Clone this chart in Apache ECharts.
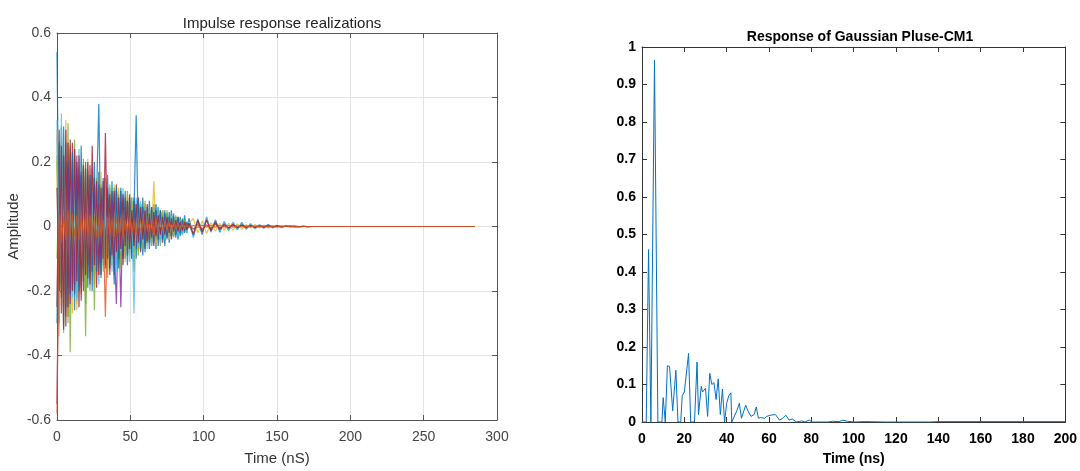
<!DOCTYPE html>
<html>
<head>
<meta charset="utf-8">
<script src="https://cdn.jsdelivr.net/npm/echarts@6/dist/echarts.min.js"></script>
<style>
  html, body { margin: 0; padding: 0; background: #fff; }
  #chart { width: 1080px; height: 471px; }
</style>
</head>
<body>
<div id="chart"></div>
<script>
// ---- left panel: impulse response realizations (time samples in nS) ----
var tLeft = [0, 1.5, 3, 4.5, 6, 7.5, 9, 10.5, 12, 13.5, 15, 16.5, 18, 19.5, 21, 22.5, 24, 25.5, 27, 28.5,
  30, 31.5, 33, 34.5, 36, 37.5, 39, 40.5, 42, 43.5, 45, 46.5, 48, 49.5, 51, 52.5, 54, 55.5, 57, 58.5,
  60, 61.5, 63, 64.5, 66, 67.5, 69, 70.5, 72, 73.5, 75, 76.5, 78, 79.5, 81, 82.5, 84, 85.5, 87, 88.5, 90,
  93, 96, 99, 102, 105, 108, 111, 114, 117, 120, 123, 126, 129, 132, 135, 138, 141, 144, 147, 150,
  153, 156, 159, 162, 165, 168, 171, 174, 177, 180, 200, 285];

var realBlue = [0.54, -0.12, 0.31, -0.22, 0.18, -0.28, 0.09,
  -0.16, 0.21, -0.05, 0.17, -0.19, 0.12, -0.08,
  0.14, -0.11, 0.07, -0.15, 0.10, 0.38, -0.09,
  0.12, -0.06, 0.09, -0.13, 0.05, -0.18, 0.11,
  -0.07, 0.08, -0.10, 0.06, -0.04, 0.09, -0.10,
  0.05, 0.345, -0.06, 0.07, -0.09, 0.06, -0.05,
  0.08, -0.06, 0.05, -0.07, 0.06, -0.04, 0.05,
  -0.06, 0.04, -0.05, 0.05, -0.03, 0.025, -0.04,
  0.03, -0.025, 0.035, -0.02, 0.025,
  -0.03, 0.02, -0.025, 0.028, -0.015, 0.02, -0.018,
  0.015, -0.012, 0.012, -0.01, 0.013, -0.008, 0.008,
  -0.006, 0.005, -0.004, 0.006, -0.003, 0.004, -0.002,
  0.002, -0.001, 0.002, -0.001, 0.001, 0, 0, 0, 0,
  0, 0];

var realYellow = [0.2, -0.34, 0.29, -0.3, 0.25, -0.2, 0.22,
  -0.27, 0.18, -0.24, 0.15, -0.12, 0.2, -0.1,
  0.12, -0.16, 0.09, -0.07, 0.11, -0.12, 0.08,
  -0.1, 0.06, -0.08, 0.1, -0.05, 0.07, -0.09,
  0.05, -0.06, 0.08, -0.04, 0.06, -0.05, 0.03,
  -0.04, 0.05, -0.03, 0.045, -0.06, 0.04, -0.02,
  0.035, -0.03, 0.14, -0.02, 0.035, -0.04, 0.03,
  -0.035, 0.03, -0.025, 0.03, -0.02, 0.025, -0.02,
  0.015, -0.018, 0.012, -0.015, 0.01,
  0.025, -0.02, 0.018, -0.022, 0.012, -0.015, 0.01,
  -0.012, 0.01, -0.012, 0.008, -0.009, 0.006, -0.005,
  0.006, -0.005, 0.004, -0.005, 0.003, -0.003, 0.002,
  0, 0.001, 0, -0.001, 0, 0, 0, 0, 0,
  0, 0];

var realGreen = [-0.1, 0.15, -0.22, 0.2, -0.28, 0.32, -0.39,
  0.17, -0.2, 0.14, -0.12, 0.1, 0.13, -0.34,
  0.11, -0.09, 0.13, -0.07, 0.08, -0.1, 0.06,
  -0.08, 0.1, -0.05, 0.07, -0.06, 0.09, -0.04,
  0.06, -0.07, 0.04, -0.05, 0.07, -0.03, 0.05,
  -0.14, 0.05, -0.07, 0.06, -0.04, 0.05, -0.05,
  0.04, -0.03, 0.045, -0.025, 0.035, -0.04, 0.025,
  -0.03, 0.02, -0.025, 0.015, -0.02, 0.012, -0.015,
  0.012, -0.01, 0.015, -0.008, 0.006,
  -0.02, 0.016, -0.012, 0.02, -0.01, 0.012, -0.009,
  0.01, -0.006, 0.01, -0.006, 0.005, -0.007, 0.005,
  -0.002, 0.003, -0.001, 0.002, -0.001, 0.001, -0.002,
  0.001, 0, -0.001, 0, 0.001, -0.003, 0, 0, 0,
  0, 0];

var realPurple = [-0.55, 0.1, -0.18, 0.22, -0.15, 0.19, -0.24,
  0.14, -0.18, 0.22, -0.1, 0.16, -0.13, 0.09,
  -0.12, 0.1, -0.08, 0.13, -0.09, 0.07, -0.11,
  0.09, -0.07, 0.1, -0.05, 0.08, -0.06, -0.24,
  0.07, -0.25, 0.06, -0.05, 0.08, -0.04, 0.05,
  -0.06, 0.04, -0.03, 0.05, -0.04, 0.03, -0.05,
  0.03, -0.04, 0.02, -0.03, 0.025, -0.02, 0.02,
  -0.015, 0.02, -0.012, 0.015, -0.01, 0.012, -0.008,
  0.01, -0.008, 0.006, -0.007, 0.005,
  -0.008, 0.006, -0.009, 0.005, -0.006, 0.007, -0.004,
  0.003, -0.004, 0.003, -0.003, 0.004, -0.002, 0.002,
  -0.001, 0.002, -0.001, 0.001, -0.002, 0.001, 0,
  0, 0.001, 0, 0, 0, 0, 0, 0, 0,
  0, 0];

var realCyan = [0.33, -0.28, 0.35, -0.2, 0.26, -0.22, 0.15,
  -0.19, 0.13, -0.23, 0.19, -0.14, 0.16, -0.12,
  0.15, -0.13, 0.11, -0.09, 0.14, -0.12, 0.1,
  -0.11, 0.13, -0.09, 0.08, -0.12, 0.1, -0.14,
  0.09, -0.08, 0.1, -0.06, 0.07, -0.09, 0.06,
  -0.27, 0.08, -0.06, 0.07, -0.05, 0.06, -0.04,
  0.05, -0.04, 0.06, -0.03, 0.04, -0.05, 0.03,
  -0.04, 0.03, -0.025, 0.035, -0.02, 0.025, -0.03,
  0.02, -0.025, 0.015, -0.02, 0.012,
  -0.035, 0.025, -0.02, 0.03, -0.018, 0.02, -0.015,
  0.016, -0.012, 0.014, -0.01, 0.012, -0.008, 0.009,
  -0.007, 0.006, -0.006, 0.004, -0.005, 0.003, -0.002,
  0.002, -0.001, 0.001, 0, 0, 0, 0, 0, 0,
  0, 0];

var realRed = [0.12, -0.2, 0.25, -0.32, 0.3, -0.25, 0.27,
  -0.2, 0.24, -0.17, 0.22, -0.23, 0.19, -0.15,
  0.2, -0.18, 0.25, -0.12, 0.14, -0.15, 0.12,
  -0.1, 0.29, -0.1, 0.1, -0.09, 0.11, -0.08,
  0.09, -0.07, 0.1, -0.06, 0.08, -0.07, 0.05,
  -0.06, 0.07, -0.05, 0.06, -0.04, 0.05, -0.045,
  0.04, -0.035, 0.045, -0.03, 0.035, -0.025, 0.03,
  -0.025, 0.03, -0.02, 0.025, -0.015, 0.02, -0.015,
  0.015, -0.012, 0.014, -0.01, 0.01,
  -0.025, 0.02, -0.018, 0.02, -0.014, 0.015, -0.01,
  0.007, -0.005, 0.006, -0.004, 0.005, -0.003, 0.003,
  -0.003, 0.002, -0.002, 0.003, -0.001, 0.002, -0.001,
  0.001, 0, -0.001, 0, 0, 0, 0, 0, 0,
  0, 0];

// extra realizations, 0 .. 90 nS only
var realBlue2 = [-0.3, 0.26, -0.18, 0.31, -0.25, 0.2, -0.21,
  0.23, -0.26, 0.18, -0.2, 0.25, -0.17, 0.2,
  -0.19, 0.16, -0.2, 0.2, -0.14, 0.17, -0.16,
  0.15, -0.13, 0.16, -0.12, 0.14, -0.15, 0.12,
  -0.13, 0.12, -0.09, 0.11, -0.12, 0.08, -0.1,
  0.09, -0.1, 0.08, -0.07, 0.09, -0.08, 0.06,
  -0.07, 0.06, -0.05, 0.07, -0.06, 0.05, -0.04,
  0.05, -0.04, 0.045, -0.03, 0.04, -0.035, 0.03,
  -0.03, 0.025, -0.02, 0.015, 0];

var realGreen2 = [0.22, -0.3, 0.27, -0.16, 0.2, -0.3, 0.24,
  -0.15, 0.27, -0.22, 0.16, -0.18, 0.21, -0.24,
  0.17, -0.2, 0.12, -0.26, 0.15, -0.11, 0.13,
  -0.14, 0.11, -0.16, 0.13, -0.1, 0.12, -0.11,
  0.1, -0.13, 0.09, -0.1, 0.11, -0.08, 0.09,
  -0.08, 0.07, -0.09, 0.06, -0.07, 0.08, -0.05,
  0.06, -0.05, 0.07, -0.04, 0.05, -0.06, 0.04,
  -0.04, 0.05, -0.03, 0.04, -0.03, 0.035, -0.025,
  0.025, -0.02, 0.02, -0.01, 0];

var realCyan2 = [0.28, -0.24, 0.2, -0.33, 0.21, -0.17, 0.25,
  -0.22, 0.16, -0.19, 0.24, -0.16, 0.18, -0.2,
  0.13, -0.17, 0.18, -0.13, 0.12, -0.18, 0.14,
  -0.12, 0.15, -0.11, 0.12, -0.14, 0.09, -0.12,
  0.11, -0.09, 0.12, -0.1, 0.08, -0.11, 0.09,
  -0.07, 0.09, -0.06, 0.08, -0.07, 0.06, -0.07,
  0.05, -0.06, 0.04, -0.05, 0.06, -0.04, 0.05,
  -0.035, 0.04, -0.04, 0.03, -0.035, 0.03, -0.02,
  0.02, -0.025, 0.015, -0.01, 0];

var realRed2 = [-0.25, 0.3, -0.27, 0.22, -0.31, 0.26, -0.19,
  0.26, -0.21, 0.2, -0.25, 0.17, -0.2, 0.18,
  -0.16, 0.19, -0.14, 0.15, -0.19, 0.13, -0.15,
  0.14, -0.12, 0.12, -0.15, 0.11, -0.1, 0.13,
  -0.1, 0.11, -0.12, 0.09, -0.09, 0.1, -0.08,
  0.08, -0.07, 0.09, -0.08, 0.06, -0.07, 0.07,
  -0.05, 0.06, -0.06, 0.05, -0.04, 0.05, -0.05,
  0.04, -0.035, 0.03, -0.04, 0.03, -0.025, 0.03,
  -0.02, 0.02, -0.015, 0.01, 0];

var realYellow2 = [0.3, -0.22, 0.18, -0.26, 0.33, -0.28, 0.2,
  -0.18, 0.22, -0.26, 0.19, -0.21, 0.15, -0.19,
  0.21, -0.14, 0.16, -0.18, 0.12, -0.15, 0.17,
  -0.11, 0.12, -0.14, 0.1, -0.12, 0.13, -0.1,
  0.12, -0.1, 0.08, -0.11, 0.1, -0.09, 0.07,
  -0.09, 0.06, -0.08, 0.07, -0.05, 0.07, -0.06,
  0.05, -0.05, 0.04, -0.06, 0.04, -0.04, 0.05,
  -0.03, 0.035, -0.04, 0.025, -0.03, 0.03, -0.02,
  0.02, -0.015, 0.02, -0.01, 0];

var realOrange = [-0.58, 0.04, -0.05, 0.03, -0.04, 0.05, -0.03,
  0.04, -0.03, 0.035, -0.04, 0.03, -0.025, 0.04,
  -0.03, 0.035, -0.02, 0.03, -0.035, 0.025, -0.03,
  0.02, -0.28, 0.03, -0.025, 0.02, -0.03, 0.025,
  -0.02, 0.025, -0.03, 0.02, -0.015, 0.025, -0.02,
  0.015, -0.02, 0.018, -0.015, 0.02, -0.012, 0.015,
  -0.012, 0.015, -0.03, 0.025, -0.01, 0.012, -0.008,
  0.01, -0.008, 0.012, -0.006, 0.008, -0.005, 0.006,
  -0.005, 0.006, -0.004, 0.005, -0.003,
  0.004, -0.003, 0.004, -0.002, 0.003, -0.002, 0.003,
  -0.002, 0.003, -0.002, 0.002, -0.001, 0.002, -0.001,
  0.001, -0.001, 0.002, -0.001, 0.001, -0.001, 0.001,
  0, 0.001, 0, -0.001, 0, 0, 0, 0, 0,
  0, 0];

// draw order: last one ends on top
var leftSeries = [
  { name: 'r1', color: '#0072BD', values: realBlue },
  { name: 'r2', color: '#EDB120', values: realYellow },
  { name: 'r3', color: '#77AC30', values: realGreen },
  { name: 'r4', color: '#4DBEEE', values: realCyan2 },
  { name: 'r5', color: '#A2142F', values: realRed2 },
  { name: 'r6', color: '#0072BD', values: realBlue2 },
  { name: 'r7', color: '#EDB120', values: realYellow2 },
  { name: 'r8', color: '#7E2F8E', values: realPurple },
  { name: 'r9', color: '#77AC30', values: realGreen2 },
  { name: 'r10', color: '#4DBEEE', values: realCyan },
  { name: 'r11', color: '#A2142F', values: realRed },
  { name: 'r12', color: '#D95319', values: realOrange }
];

// ---- right panel: response of Gaussian pulse, CM1 ----
var tRight = [0, 2, 3.1, 4.2, 5.9, 7.5, 9.4, 10, 11, 12, 13, 14.5, 15.2, 16, 17, 18.3, 19, 20, 22, 23,
  24.8, 26, 26.7, 28, 28.6, 30, 31, 32, 33, 34, 35, 36, 37, 38, 39, 40, 41, 42, 42.4, 44.8,
  46, 47, 49, 50, 51.5, 53, 54, 55, 56, 58, 59, 60.5, 63, 65, 66.5, 68, 69.5, 71, 73, 75.5,
  77, 79, 80.5, 88, 90, 93, 95, 97, 100, 105, 115, 136, 140, 200];
var respRight = [0, 0, 0.46, 0, 0.965, 0, 0, 0.065, 0, 0.15, 0.148, 0.03, 0.025, 0.138, 0, 0, 0.07, 0.08, 0.183, 0,
  0, 0.16, 0.02, 0.095, 0.08, 0.09, 0.015, 0.13, 0.1, 0.105, 0.06, 0.115, 0.02, 0.088, 0, 0.05, 0.07, 0.078, 0, 0.03,
  0.05, 0.01, 0.045, 0.03, 0.015, 0.02, 0.04, 0.01, 0.012, 0.01, 0.015, 0.018, 0.02, 0.005, 0.01, 0.018, 0.005, 0.008, 0, 0.003,
  0, 0.005, 0, 0, 0.002, 0.001, 0.005, 0.002, 0, 0.001, 0, 0, 0.001, 0.001];

var chart = echarts.init(document.getElementById('chart'));

var leftFont = 'Liberation Sans, Arial, sans-serif';
var boxAxis = function (grid, pos, color) {
  return {
    type: 'value', gridIndex: grid, position: pos,
    axisLine: { show: true, onZero: false, lineStyle: { color: color, width: 1 } },
    axisTick: { show: true, inside: true, length: 5, lineStyle: { color: color } },
    axisLabel: { show: false },
    splitLine: { show: false }
  };
};

var xLeftTop = boxAxis(0, 'top', '#555'); xLeftTop.min = 0; xLeftTop.max = 300; xLeftTop.interval = 50;
var yLeftRight = boxAxis(0, 'right', '#555'); yLeftRight.min = -0.6; yLeftRight.max = 0.6; yLeftRight.interval = 0.2;
var xRightTop = boxAxis(1, 'top', '#333'); xRightTop.min = 0; xRightTop.max = 200; xRightTop.interval = 20;
var yRightRight = boxAxis(1, 'right', '#333'); yRightRight.min = 0; yRightRight.max = 1; yRightRight.interval = 0.1;

var series = leftSeries.map(function (s) {
  return {
    name: s.name, type: 'line', xAxisIndex: 0, yAxisIndex: 0,
    showSymbol: false, symbol: 'none', silent: true,
    lineStyle: { color: s.color, width: 1.2, opacity: 0.8 },
    data: s.values.map(function (v, i) { return [tLeft[i], v]; })
  };
});
series.push({
  name: 'CM1', type: 'line', xAxisIndex: 2, yAxisIndex: 2,
  showSymbol: false, symbol: 'none', silent: true,
  lineStyle: { color: '#0072BD', width: 1 },
  data: tRight.map(function (t, i) { return [t, respRight[i]]; })
});

chart.setOption({
  animation: false,
  backgroundColor: '#fff',
  title: [
    {
      text: 'Impulse response realizations', left: 277, top: 11, textAlign: 'center',
      textStyle: { fontFamily: leftFont, fontSize: 15, fontWeight: 'normal', color: '#222' }
    },
    {
      text: 'Response of Gaussian Pluse-CM1', left: 855, top: 25, textAlign: 'center',
      textStyle: { fontFamily: leftFont, fontSize: 14, fontWeight: 'bold', color: '#000' }
    }
  ],
  grid: [
    { left: 57, top: 33, width: 440, height: 391 },
    { left: 642, top: 47, width: 426, height: 377 }
  ],
  xAxis: [
    {
      type: 'value', gridIndex: 0, min: 0, max: 300, interval: 50,
      name: 'Time (nS)', nameLocation: 'middle', nameGap: 31,
      nameTextStyle: { fontFamily: leftFont, fontSize: 15, color: '#333' },
      axisLine: { show: true, onZero: false, lineStyle: { color: '#555' } },
      axisTick: { show: true, inside: true, length: 5, lineStyle: { color: '#555' } },
      axisLabel: { fontFamily: leftFont, fontSize: 14, color: '#444', margin: 10 },
      splitLine: { show: true, lineStyle: { color: '#e3e3e3', width: 1 } }
    },
    xLeftTop,
    {
      type: 'value', gridIndex: 1, min: 0, max: 200, interval: 20,
      name: 'Time (ns)', nameLocation: 'middle', nameGap: 30,
      nameTextStyle: { fontFamily: leftFont, fontSize: 14, fontWeight: 'bold', color: '#000' },
      axisLine: { show: true, onZero: false, lineStyle: { color: '#333' } },
      axisTick: { show: true, inside: true, length: 5, lineStyle: { color: '#333' } },
      axisLabel: { fontFamily: leftFont, fontSize: 14, fontWeight: 'bold', color: '#000', margin: 10 },
      splitLine: { show: false }
    },
    xRightTop
  ],
  yAxis: [
    {
      type: 'value', gridIndex: 0, min: -0.6, max: 0.6, interval: 0.2,
      name: 'Amplitude', nameLocation: 'middle', nameGap: 36, nameRotate: 90,
      nameTextStyle: { fontFamily: leftFont, fontSize: 15, color: '#333' },
      axisLine: { show: true, onZero: false, lineStyle: { color: '#555' } },
      axisTick: { show: true, inside: true, length: 5, lineStyle: { color: '#555' } },
      axisLabel: {
        fontFamily: leftFont, fontSize: 14, color: '#444', margin: 6,
        formatter: function (v) { return String(+v.toFixed(1)); }
      },
      splitLine: { show: true, lineStyle: { color: '#e3e3e3', width: 1 } }
    },
    yLeftRight,
    {
      type: 'value', gridIndex: 1, min: 0, max: 1, interval: 0.1,
      axisLine: { show: true, onZero: false, lineStyle: { color: '#333' } },
      axisTick: { show: true, inside: true, length: 5, lineStyle: { color: '#333' } },
      axisLabel: {
        fontFamily: leftFont, fontSize: 14, fontWeight: 'bold', color: '#000', margin: 6,
        formatter: function (v) { return String(+v.toFixed(1)); }
      },
      splitLine: { show: false }
    },
    yRightRight
  ],
  series: series
});
</script>
</body>
</html>
